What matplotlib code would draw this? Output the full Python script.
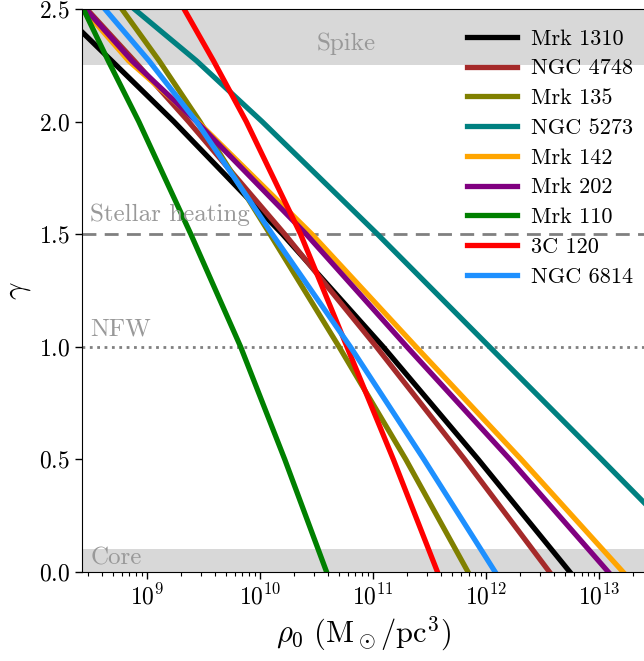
import numpy as np
import matplotlib.pyplot as plt

plt.rcParams['font.family'] = 'cmr10'
plt.rcParams['mathtext.fontset'] = 'cm'
plt.rcParams['axes.formatter.use_mathtext'] = True

# gamma values where rho0 was read for every galaxy
gamma = [2.5, 2.27, 2.0, 1.5, 1.0, 0.5, 0.0]

names = ['Mrk 1310', 'NGC 4748', 'Mrk 135', 'NGC 5273', 'Mrk 142',
         'Mrk 202', 'Mrk 110', '3C 120', 'NGC 6814']
colors = ['black', 'brown', 'olive', 'teal', 'orange',
          'purple', 'green', 'red', 'dodgerblue']

# log10(rho0 / (Msun/pc^3)) at each gamma above
log_rho = {
    'Mrk 1310': [8.22, 8.69, 9.24, 10.20, 11.09, 11.93, 12.74],
    'NGC 4748': [8.47, 8.89, 9.37, 10.22, 11.03, 11.81, 12.56],
    'Mrk 135':  [8.78, 9.11, 9.47, 10.09, 10.70, 11.29, 11.84],
    'NGC 5273': [8.89, 9.44, 10.02, 11.04, 12.03, 13.02, 14.00],
    'Mrk 142':  [8.44, 8.84, 9.45, 10.46, 11.38, 12.31, 13.21],
    'Mrk 202':  [8.46, 8.87, 9.44, 10.41, 11.30, 12.21, 13.08],
    'Mrk 110':  [8.44, 8.66, 8.93, 9.39, 9.83, 10.22, 10.59],
    '3C 120':   [9.33, 9.59, 9.88, 10.36, 10.77, 11.18, 11.57],
    'NGC 6814': [8.63, 9.02, 9.44, 10.11, 10.80, 11.45, 12.08],
}

fig = plt.figure(figsize=(6.44, 6.61), dpi=100)
ax = fig.add_axes([82/644, 89/661, 564/644, 563/661])

ax.axhspan(2.25, 2.5, color='#d8d8d8', lw=0, zorder=0)
ax.axhspan(0.0, 0.1, color='#d8d8d8', lw=0, zorder=0)
ax.axhline(1.5, color='gray', ls='--', lw=2, dashes=(5, 3))
ax.axhline(1.0, color='gray', ls=':', lw=2)

for n, c in zip(names, colors):
    ax.plot(10**np.array(log_rho[n]), gamma, color=c, lw=3.8, label=n)

gc = '#999999'
ax.text(10**10.76, 2.345, 'Spike', color=gc, fontsize=18, ha='center', va='center')
ax.text(10**8.50, 1.535, 'Stellar heating', color=gc, fontsize=18, va='bottom')
ax.text(10**8.50, 1.03, 'NFW', color=gc, fontsize=18, va='bottom')
ax.text(10**8.50, 0.01, 'Core', color=gc, fontsize=18, va='bottom')

ax.set_xscale('log')
ax.set_xlim(10**8.428, 10**13.413)
ax.set_ylim(0, 2.5)
ax.set_yticks([0, 0.5, 1.0, 1.5, 2.0, 2.5])
ax.tick_params(which='major', labelsize=17, length=5, width=1)
ax.tick_params(which='minor', length=3, width=0.8)
ax.set_xlabel(r'$\rho_0\ (\mathrm{M}_\odot/\mathrm{pc}^3)$', fontsize=22)
ax.set_ylabel(r'$\gamma$', fontsize=22)

ax.legend(loc='upper right', frameon=False, fontsize=16, handlelength=2.25,
          handletextpad=0.6, bbox_to_anchor=(1.012, 1.0), labelspacing=0.46)

fig.savefig('out.png', dpi=100)
